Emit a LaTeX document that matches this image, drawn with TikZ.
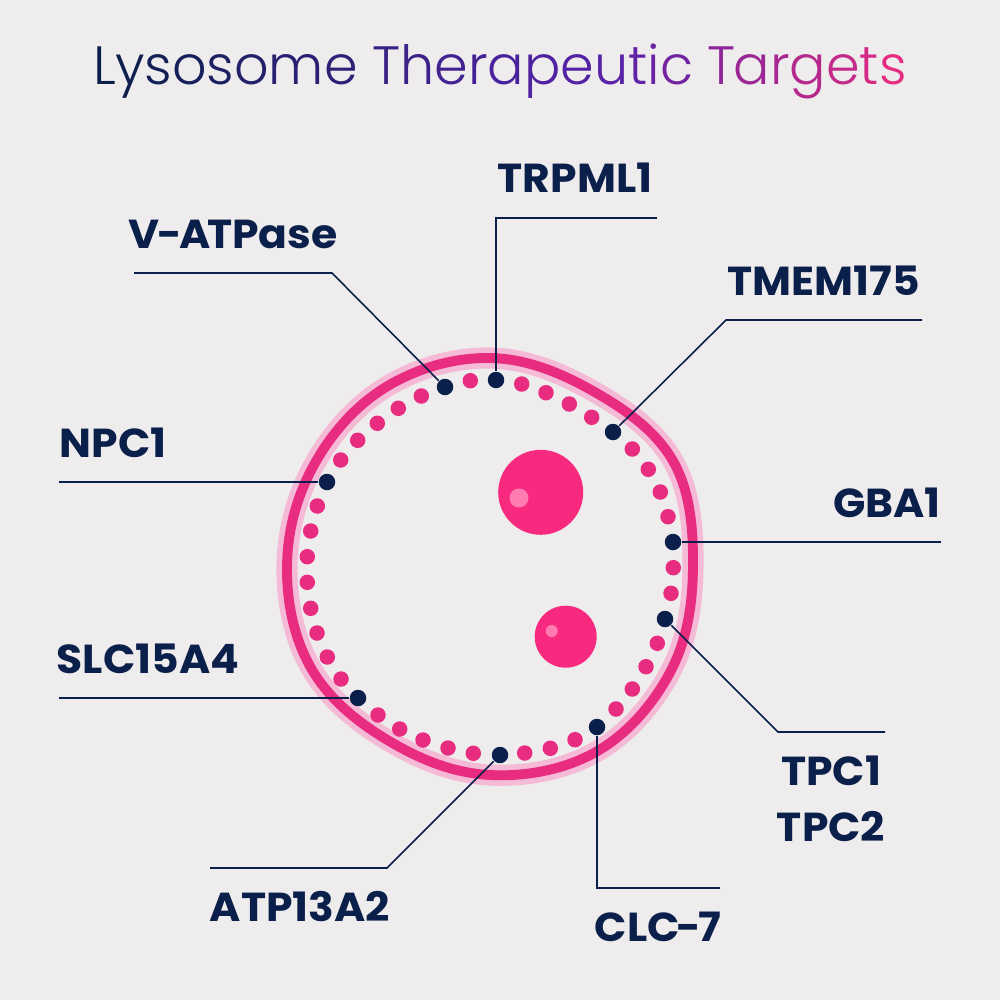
\documentclass[tikz,border=0pt]{standalone}
\usepackage{fontspec}
\setmainfont{Poppins}
\newfontfamily\titlefont{Poppins Light}
\newfontfamily\labfont{Poppins}[FakeStretch=1.05]
\usetikzlibrary{positioning}
\definecolor{bgcol}{HTML}{EEECED}
\definecolor{navycol}{HTML}{0A1F4A}
\definecolor{purplecol}{HTML}{5522A8}
\definecolor{ringcol}{HTML}{E82C7F}
\definecolor{halocol}{HTML}{F4BAD6}
\definecolor{ballcol}{HTML}{F72A80}
\definecolor{shinecol}{HTML}{FF7BB0}
% title letters fade navy - purple - pink
\newcommand{\la}[2]{{\color{purplecol!#1!navycol}#2}}
\newcommand{\lb}[2]{{\color{ringcol!#1!purplecol}#2}}
\tikzset{
  dot/.style={circle, fill=ringcol, inner sep=0pt, minimum size=15.5*0.01cm},
  target/.style={circle, fill=navycol, inner sep=0pt, minimum size=16.5*0.01cm},
  lab/.style={text=navycol, font=\labfont\fontsize{11.5}{13}\selectfont\bfseries, inner sep=0pt},
  wire/.style={draw=navycol, line width=0.45pt},
  ball/.style={circle, fill=ballcol, inner sep=0pt},
  shine/.style={circle, fill=shinecol, inner sep=0pt}
}
\begin{document}
\begin{tikzpicture}[x=0.01cm, y=-0.01cm]
        \fill[bgcol] (0,0) rectangle (1000,1000);
        \node[inner sep=0pt, font=\titlefont\fontsize{15.35}{18}\selectfont] (title) at (500,71) {%
          \la{0}{L}\kern-.02em\la{6}{y}\la{12}{s}\la{18}{o}\la{25}{s}\la{32}{o}\la{40}{m}\la{48}{e} %
          \la{62}{T}\la{68}{h}\la{74}{e}\la{80}{r}\la{86}{a}\la{92}{p}\la{96}{e}\lb{3}{u}\lb{8}{t}\lb{13}{i}\lb{20}{c} %
          \lb{38}{T}\kern-.04em\lb{48}{a}\lb{56}{r}\lb{65}{g}\lb{75}{e}\lb{86}{t}\lb{98}{s}};

        % membrane
        \def\blob{(-90:208) (-60:203) (-30:211) (0:203) (30:209) (60:214) (90:209) (120:202) (150:206) (180:203) (210:203) (240:207)}
        \draw[halocol, line width=6pt, shift={(490,566)}] plot[smooth cycle, tension=0.63] coordinates {\blob};
        \draw[ringcol, line width=2.8pt, shift={(490,566)}] plot[smooth cycle, tension=0.63] coordinates {\blob};

        % vesicles
        \node[ball, minimum size=85*0.01cm] (big) at (540.7,492.3) {};
        \node[shine, minimum size=19*0.01cm] (bigshine) at (519,498) {};
        \node[ball, minimum size=62*0.01cm] (small) at (565.7,636.7) {};
        \node[shine, minimum size=12*0.01cm] (smallshine) at (551.7,631) {};

        % pink dots
        \foreach \i/\x/\y in {1/470.3/380.7, 2/521.7/384, 3/546/392.7, 4/569.3/404, 5/591.7/417.3,
            6/632.3/449, 7/648.3/469.3, 8/660.3/492, 9/668/516.7, 10/673.3/567.7, 11/671/593.3,
            12/657.3/643.3, 13/646/666.7, 14/632.3/689, 15/616/709, 16/575/739.7, 17/550.3/748.3,
            18/524.7/753, 19/473.3/753.3, 20/448/748, 21/423/740, 22/399.7/729, 23/378/715,
            24/341/679, 25/327.3/657, 26/317/633, 27/310.7/608.3, 28/307.3/582.3, 29/307.3/556.7,
            30/310.7/531, 31/317.3/506, 32/340.7/460, 33/357.7/440.3, 34/377.3/423.3, 35/398.3/408.3,
            36/421.3/396}
            \node[dot] (p\i) at (\x,\y) {};

        % labels
        \node[lab] (trpml) at (575,178) {TRPML1};
        \node[lab] (vatp) at (233,234) {V\kern-.06em-\kern-.06em A\kern-.08em TPase};
        \node[lab] (tmem) at (824,281) {TMEM175};
        \node[lab] (npc) at (113,443) {NPC1};
        \node[lab] (gba) at (887,503) {GBA1};
        \node[lab] (slc) at (148,659) {SLC15A4};
        \node[lab] (tpca) at (831,771) {TPC1};
        \node[lab] (tpcb) at (831,827) {TPC2};
        \node[lab] (atp) at (300,907) {ATP13A2};
        \node[lab] (clc) at (658,927) {CLC\kern-.07em-\kern-.07em 7};

        % line ends and bends
        \coordinate (vatpa) at (134,273);
        \coordinate (vatpb) at (332,273);
        \coordinate (trpmla) at (657,218);
        \coordinate (trpmlb) at (496,218);
        \coordinate (tmema) at (922,320);
        \coordinate (tmemb) at (726,320);
        \coordinate (gbaa) at (941,542);
        \coordinate (tpcc) at (885,732);
        \coordinate (tpcd) at (778,732);
        \coordinate (clca) at (720,888);
        \coordinate (clcb) at (597,888);
        \coordinate (atpa) at (210,868);
        \coordinate (atpb) at (387,868);
        \coordinate (slca) at (59,698);
        \coordinate (npca) at (59,482);

        % navy dots
        \node[target] (tvatp) at (445,387) {};
        \node[target] (ttrpml) at (496,380) {};
        \node[target] (ttmem) at (613,432) {};
        \node[target] (tgba) at (673,542) {};
        \node[target] (ttpc) at (665,619) {};
        \node[target] (tclc) at (597,727) {};
        \node[target] (tatp) at (500,755) {};
        \node[target] (tslc) at (358,698) {};
        \node[target] (tnpc) at (327,482) {};

        \draw[wire] (vatpa) -- (vatpb) -- (tvatp);
        \draw[wire] (trpmla) -- (trpmlb) -- (ttrpml);
        \draw[wire] (tmema) -- (tmemb) -- (ttmem);
        \draw[wire] (gbaa) -- (tgba);
        \draw[wire] (tpcc) -- (tpcd) -- (ttpc);
        \draw[wire] (clca) -- (clcb) -- (tclc);
        \draw[wire] (atpa) -- (atpb) -- (tatp);
        \draw[wire] (slca) -- (tslc);
        \draw[wire] (npca) -- (tnpc);
    \end{tikzpicture}
\end{document}
